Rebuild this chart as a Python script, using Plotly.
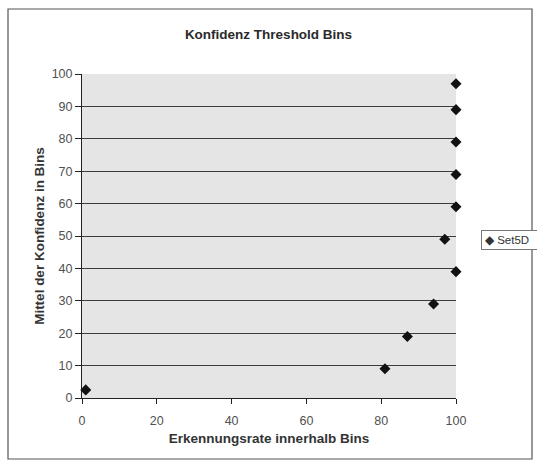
import plotly.graph_objects as go

# Recognition rate per bin (x) against mean confidence per bin (y)
erkennungsrate = [1, 81, 87, 94, 100, 97, 100, 100, 100, 100, 100]
mittel_konfidenz = [2.5, 9, 19, 29, 39, 49, 59, 69, 79, 89, 97]
series_name = "Set5D"

x_ticks = [0, 20, 40, 60, 80, 100]
y_ticks = [0, 10, 20, 30, 40, 50, 60, 70, 80, 90, 100]
grid_levels = [10, 20, 30, 40, 50, 60, 70, 80, 90]

W, H = 537, 463
ML, MR, MT, MB = 82, 81, 74, 65
FONT = "Liberation Sans, Arial, sans-serif"

fig = go.Figure()
fig.add_trace(go.Scatter(
    x=erkennungsrate, y=mittel_konfidenz, mode="markers", name=series_name,
    marker=dict(symbol="diamond", size=8.5, color="#111111"),
    cliponaxis=False, showlegend=False,
))
# empty trace that carries the horizontal grid axis
fig.add_trace(go.Scatter(x=[], y=[], yaxis="y2", showlegend=False, hoverinfo="skip"))

pw = W - ML - MR
ph = H - MT - MB

def px_x(p):
    return (p - ML) / pw

def px_y(p):
    return (H - MB - p) / ph

fig.update_layout(
    width=W, height=H,
    margin=dict(l=ML, r=MR, t=MT, b=MB, autoexpand=False),
    paper_bgcolor="white",
    plot_bgcolor="#e5e5e5",
    font=dict(family=FONT, size=12, color="#333333"),
    title=dict(text="<b>Konfidenz Threshold Bins</b>", x=0.5, xanchor="center",
               y=1 - 34 / H, yanchor="middle",
               font=dict(family=FONT, size=13.5, color="#2a2a2a")),
    xaxis=dict(range=[0, 100], tickvals=x_ticks, showgrid=False, zeroline=False,
               showline=True, linecolor="#222222", linewidth=1,
               ticks="outside", ticklen=5, tickcolor="#222222",
               ticklabelstandoff=6,
               tickfont=dict(size=12.5, color="#505050"),
               title=dict(text="<b>Erkennungsrate innerhalb Bins</b>", standoff=6,
                          font=dict(size=13.5, color="#333333"))),
    yaxis=dict(range=[0, 100], tickvals=y_ticks, showgrid=False, zeroline=False,
               showline=True, linecolor="#222222", linewidth=1,
               ticks="outside", ticklen=6, tickcolor="#222222",
               tickfont=dict(size=12.5, color="#505050"),
               title=dict(text="<b>Mittel der Konfidenz in Bins</b>", standoff=3,
                          font=dict(size=13.5, color="#333333"))),
    yaxis2=dict(range=[0, 100], overlaying="y", tickvals=grid_levels,
                showticklabels=False, showgrid=True, gridcolor="#3c3c3c",
                gridwidth=1.2, zeroline=False, showline=False, ticks=""),
    annotations=[dict(text="\u25c6 " + series_name, xref="paper", yref="paper",
                      x=px_x(481), y=px_y(240), xanchor="left", yanchor="middle",
                      showarrow=False, align="left", width=72,
                      bgcolor="white", bordercolor="#777777", borderwidth=1,
                      borderpad=3, font=dict(size=11.5, color="#333333"))],
    shapes=[dict(type="rect", xref="paper", yref="paper",
                 x0=px_x(8), x1=px_x(532), y0=px_y(459), y1=px_y(9),
                 line=dict(color="#555555", width=1.2), layer="below")],
)

fig.write_html("out.html")
